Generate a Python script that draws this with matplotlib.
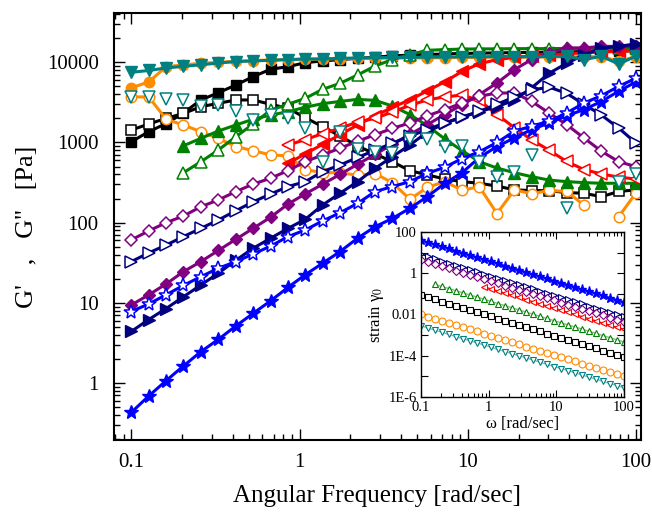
import numpy as np
import matplotlib
matplotlib.use("Agg")
import matplotlib.pyplot as plt
from matplotlib.ticker import FixedLocator, FixedFormatter, LogLocator, NullFormatter

nan = np.nan

# angular frequency grid [rad/s], 10 points per decade
freq = [0.1, 0.127, 0.161, 0.204, 0.259, 0.329, 0.418, 0.530, 0.673, 0.854,
        1.08, 1.37, 1.74, 2.21, 2.81, 3.56, 4.52, 5.74, 7.28, 9.24,
        11.7, 14.9, 18.9, 23.9, 30.4, 38.6, 48.9, 62.1, 78.8, 100]

# moduli [Pa]: filled = first series, open = second series of each sample
teal_f = [7500, 7900, 8500, 8900, 9300, 9800, 10200, 10400, 10600, 10800,
          11000, 11000, 11200, 11300, 11400, 11500, 11500, 11600, 11600, 11700,
          11700, 11800, 11800, 11700, 11800, 11900, 10800, 11900, 9500, 12000]
teal_o = [3700, 3700, 3450, 3400, 2850, 2930, 2500, 1900, 2200, 2000,
          1500, 575, 1365, 820, 760, 730, 1120, 1090, 890, 910,
          575, 375, 430, 700, nan, 152, nan, nan, 325, 410]

orange_f = [4800, 5700, 8800, 9300, 9700, 10000, 10300, 10500, 10700, 10800,
            10900, 11000, 11100, 11200, 11200, 11300, 11300, 11400, 11400, 11500,
            11500, 11600, 11600, 11600, 11700, 11700, 11700, 11800, 10300, 11800]
orange_o = [3700, 3700, 1950, 1650, 1365, 1125, 890, 790, 700, 680,
            460, 420, 420, 390, 410, 315, 196, 275, 325, 255,
            280, 130, 257, 230, 252, 245, 166, nan, 119, 237]

black_f = [1020, 1365, 1720, 2330, 3390, 4170, 5210, 6620, 8200, 8810,
           9890, 10400, 10800, 11200, 11600, 12000, 12300, 12500, 12700, 12900,
           13000, 13100, 13200, 13300, 13400, 13500, 13600, 13700, 13800, 13900]
black_o = [1430, 1700, 2000, 2300, 2790, 3080, 3390, 3390, 2990, 2670,
           2040, 1575, 1205, 903, 720, 575, 445, 395, 350, 325,
           310, 286, 257, 251, 251, 237, 233, 211, 245, 257]

green_f = [nan, nan, nan, 910, 1125, 1390, 1650, 1950, 2200, 2420,
           2750, 3050, 3250, 3450, 3350, 2850, 2230, 1620, 1110, 790,
           575, 480, 420, 375, 340, 325, 316, 310, 310, 310]
green_o = [nan, nan, nan, 420, 575, 805, 1180, 1700, 2540, 3000,
           3550, 4600, 5470, 6940, 9000, 10800, 12500, 14100, 14400, 14600,
           14700, 14700, 14800, 14800, 14800, 14900, 14900, 14900, 15000, 15000]

red_f = [nan] * 9 + [550, 720, 950, 1250, 1650, 2150, 2750, 3400, 4400, 5700,
                     7700, 9600, 10800, 11500, 12000, 12400, 12800, 13100, 13400, 13700,
                     14000]
red_o = [nan] * 9 + [930, 1085, 1290, 1500, 1800, 2000, 2400, 2900, 3400, 3700,
                     3900, 3350, 2230, 1530, 1080, 800, 580, 460, 405, 370,
                     350]

purple_f = [9.4, 12.6, 17.2, 24.5, 32.7, 45, 62, 85, 117, 171,
            228, 302, 400, 535, 710, 950, 1260, 1670, 2230, 2960,
            3960, 5520, 8100, 10800, 13000, 15100, 15100, 15800, 15800, 15800]
purple_o = [61, 79, 100, 121, 158, 192, 244, 303, 358, 447,
            575, 700, 850, 1035, 1250, 1500, 1750, 2150, 2570, 3100,
            3770, 4140, 4140, 3260, 2330, 1670, 1140, 780, 575, 500]

navy_f = [4.4, 6.2, 8.5, 11.9, 16.7, 23.4, 34, 48, 64, 85,
          110, 166, 233, 325, 475, 665, 930, 1350, 1740, 2090,
          2430, 2790, 3390, 4800, 7300, 9700, 12400, 15000, 15800, 17000]
navy_o = [32.7, 42, 52.6, 67, 85, 108, 141, 182, 228, 282,
          325, 433, 524, 650, 800, 980, 1200, 1450, 1750, 2050,
          2450, 3000, 3700, 4500, 4900, 4100, 3000, 2200, 1510, 980]

blue_f = [0.43, 0.69, 1.07, 1.63, 2.46, 3.5, 5.15, 7.4, 10.6, 15.6,
          22.4, 31.2, 43.6, 64, 89, 113, 151, 211, 308, 420,
          650, 890, 1140, 1450, 1750, 2150, 2570, 3240, 4370, 5700]
blue_o = [7.8, 9.7, 12.6, 16.5, 21.2, 27, 32.7, 40.7, 51, 67,
          81, 105, 133, 174, 244, 282, 325, 413, 490, 630,
          767, 1000, 1380, 1600, 1840, 2330, 3100, 3830, 5010, 6350]

# strain amplitude for each sample (inset)
strain_blue = [41, 32, 25, 20, 16, 12.5, 9.8, 7.7, 6.1, 4.8,
               3.8, 3.0, 2.35, 1.85, 1.46, 1.15, 0.91, 0.71, 0.56, 0.44,
               0.35, 0.28, 0.22, 0.17, 0.135, 0.106, 0.084, 0.066, 0.052, 0.041]
strain_navy = [8.3, 6.5, 5.2, 4.1, 3.2, 2.5, 2.0, 1.57, 1.24, 0.97,
               0.77, 0.60, 0.48, 0.375, 0.295, 0.233, 0.183, 0.144, 0.114, 0.090,
               0.071, 0.056, 0.044, 0.035, 0.027, 0.0215, 0.017, 0.0134, 0.0105, 0.0083]
strain_purple = [4.4, 3.5, 2.7, 2.15, 1.7, 1.34, 1.05, 0.83, 0.66, 0.52,
                 0.41, 0.32, 0.25, 0.2, 0.157, 0.124, 0.097, 0.077, 0.060, 0.048,
                 0.0375, 0.0296, 0.0233, 0.0184, 0.0145, 0.0114, 0.009, 0.0071, 0.0056, 0.0044]
strain_red = [nan] * 9 + [0.22, 0.174, 0.137, 0.108, 0.085, 0.067, 0.053, 0.0415, 0.0327, 0.0258,
                          0.0203, 0.016, 0.0126, 0.01, 0.0079, 0.0062, 0.0049, 0.0038, 0.003, 0.0024,
                          0.0019]
strain_green = [nan, nan, 0.29, 0.228, 0.18, 0.142, 0.112, 0.088, 0.0696, 0.0548,
                0.0432, 0.034, 0.0268, 0.0211, 0.0166, 0.0131, 0.0103, 0.0081, 0.0064, 0.005,
                0.004, 0.0031, 0.0025, 0.00196, 0.00154, 0.00121, 0.00095, 0.00075, 0.00059, 0.00047]
strain_black = [0.087, 0.069, 0.054, 0.0425, 0.0336, 0.0264, 0.0208, 0.0164, 0.013, 0.0102,
                0.008, 0.0063, 0.005, 0.0039, 0.0031, 0.00244, 0.00192, 0.00151, 0.00119, 0.00094,
                0.00074, 0.00058, 0.00046, 0.00036, 0.000286, 0.000225, 0.000177, 0.00014, 0.00011, 8.7e-5]
strain_orange = [0.01, 0.0079, 0.0062, 0.0049, 0.0039, 0.003, 0.0024, 0.0019, 0.0015, 0.00117,
                 0.00092, 0.00073, 0.00057, 0.00045, 0.00036, 0.00028, 0.00022, 0.000174, 0.000137, 0.000108,
                 8.5e-5, 6.7e-5, 5.3e-5, 4.2e-5, 3.3e-5, 2.6e-5, 2.0e-5, 1.6e-5, 1.27e-5, 1.0e-5]
strain_teal = [2.8e-3, 2.2e-3, 1.74e-3, 1.37e-3, 1.08e-3, 8.5e-4, 6.7e-4, 5.3e-4, 4.2e-4, 3.3e-4,
               2.6e-4, 2.04e-4, 1.6e-4, 1.27e-4, 1.0e-4, 7.9e-5, 6.2e-5, 4.9e-5, 3.8e-5, 3.0e-5,
               2.4e-5, 1.9e-5, 1.48e-5, 1.17e-5, 9.2e-6, 7.3e-6, 5.7e-6, 4.5e-6, 3.6e-6, 2.8e-6]

TEAL = "#008080"
ORANGE = "#ff8c00"
BLACK = "#000000"
GREEN = "#008000"
RED = "#ff0000"
PURPLE = "#800080"
NAVY = "#000080"
BLUE = "#0000ff"

plt.rcParams["font.family"] = ["Liberation Serif", "DejaVu Serif"]
plt.rcParams["mathtext.fontset"] = "stix"

fig = plt.figure(figsize=(6.52, 5.13), dpi=100)
ax = fig.add_axes([0.1748, 0.1423, 0.8083, 0.8324])

LW = 2.2

def pair(filled, opened, color, marker, ms, open_line=True):
    ax.plot(freq, filled, color=color, lw=LW, marker=marker, ms=ms,
            mfc=color, mec=color)
    ax.plot(freq, opened, color=color, lw=LW if open_line else 0,
            marker=marker, ms=ms, mfc="white", mec=color, mew=1.1)

pair(black_f, black_o, BLACK, "s", 7)
pair(orange_f, orange_o, ORANGE, "o", 7.5)
pair(green_f, green_o, GREEN, "^", 8.5)
pair(red_f, red_o, RED, "<", 8.5)
pair(purple_f, purple_o, PURPLE, "D", 6.5)
pair(navy_f, navy_o, NAVY, ">", 8.5)
pair(blue_f, blue_o, BLUE, "*", 10)
pair(teal_f, teal_o, TEAL, "v", 8.5, open_line=False)

ax.set_xscale("log")
ax.set_yscale("log")
ax.set_xlim(0.0789, 106.8)
ax.set_ylim(0.195, 41200)

ax.xaxis.set_major_locator(FixedLocator([0.1, 1, 10, 100]))
ax.xaxis.set_major_formatter(FixedFormatter(["0.1", "1", "10", "100"]))
ax.yaxis.set_major_locator(FixedLocator([1, 10, 100, 1000, 10000]))
ax.yaxis.set_major_formatter(FixedFormatter(["1", "10", "100", "1000", "10000"]))
for axis in (ax.xaxis, ax.yaxis):
    axis.set_minor_locator(LogLocator(base=10, subs=np.arange(2, 10), numticks=20))
    axis.set_minor_formatter(NullFormatter())

ax.tick_params(which="both", direction="in", top=True, right=True, width=1.0)
ax.tick_params(which="major", length=8, labelsize=15)
ax.tick_params(axis="x", which="major", pad=9)
ax.tick_params(axis="y", which="major", pad=11)
ax.tick_params(which="minor", length=4)
for s in ax.spines.values():
    s.set_linewidth(1.5)

ax.set_xlabel("Angular Frequency [rad/sec]", fontsize=18, labelpad=10)
ax.set_ylabel("G'   ,   G''   [Pa]", fontsize=19, labelpad=6)

# inset: strain amplitude vs frequency
ins = fig.add_axes([0.6457, 0.2261, 0.3114, 0.3217])
ins.set_facecolor("white")
ILW = 1.0
IMS = 5
ins.plot(freq, strain_blue, color=BLUE, lw=ILW, marker="*", ms=6.5, mfc=BLUE, mec=BLUE)
ins.plot(freq, strain_navy, color=NAVY, lw=ILW, marker=">", ms=IMS, mfc="white", mec=NAVY, mew=0.8)
ins.plot(freq, strain_purple, color=PURPLE, lw=ILW, marker="D", ms=4, mfc="white", mec=PURPLE, mew=0.8)
ins.plot(freq, strain_red, color=RED, lw=ILW, marker="<", ms=IMS, mfc="white", mec=RED, mew=0.8)
ins.plot(freq, strain_green, color="#80c080", lw=ILW, marker="^", ms=IMS, mfc="white", mec=GREEN, mew=0.8)
ins.plot(freq, strain_black, color="#808080", lw=ILW, marker="s", ms=4.2, mfc="white", mec=BLACK, mew=0.8)
ins.plot(freq, strain_orange, color="#ffc080", lw=ILW, marker="o", ms=IMS, mfc="white", mec=ORANGE, mew=0.8)
ins.plot(freq, strain_teal, color="#80c0c0", lw=ILW, marker="v", ms=IMS, mfc="white", mec=TEAL, mew=0.8)

ins.set_xscale("log")
ins.set_yscale("log")
ins.set_xlim(0.1, 100)
ins.set_ylim(1e-6, 100)
ins.xaxis.set_major_locator(FixedLocator([0.1, 1, 10, 100]))
ins.xaxis.set_major_formatter(FixedFormatter(["0.1", "1", "10", "100"]))
ins.xaxis.set_minor_locator(LogLocator(base=10, subs=np.arange(2, 10), numticks=20))
ins.xaxis.set_minor_formatter(NullFormatter())
ins.yaxis.set_major_locator(FixedLocator([1e-6, 1e-4, 1e-2, 1, 100]))
ins.yaxis.set_major_formatter(FixedFormatter(["1E-6", "1E-4", "0.01", "1", "100"]))
ins.yaxis.set_minor_locator(FixedLocator([1e-5, 1e-3, 1e-1, 10]))
ins.yaxis.set_minor_formatter(NullFormatter())
ins.tick_params(which="both", direction="in", top=True, right=True, width=0.8, labelsize=10.5)
ins.tick_params(which="major", length=5, pad=3)
ins.tick_params(axis="y", which="minor", length=5)
ins.tick_params(axis="x", which="minor", length=3)
for s in ins.spines.values():
    s.set_linewidth(1.0)
ins.set_xlabel("ω [rad/sec]", fontsize=12, labelpad=1)
ins.set_ylabel("strain γ$_0$", fontsize=12, labelpad=2)

fig.savefig("out.png", dpi=100)
